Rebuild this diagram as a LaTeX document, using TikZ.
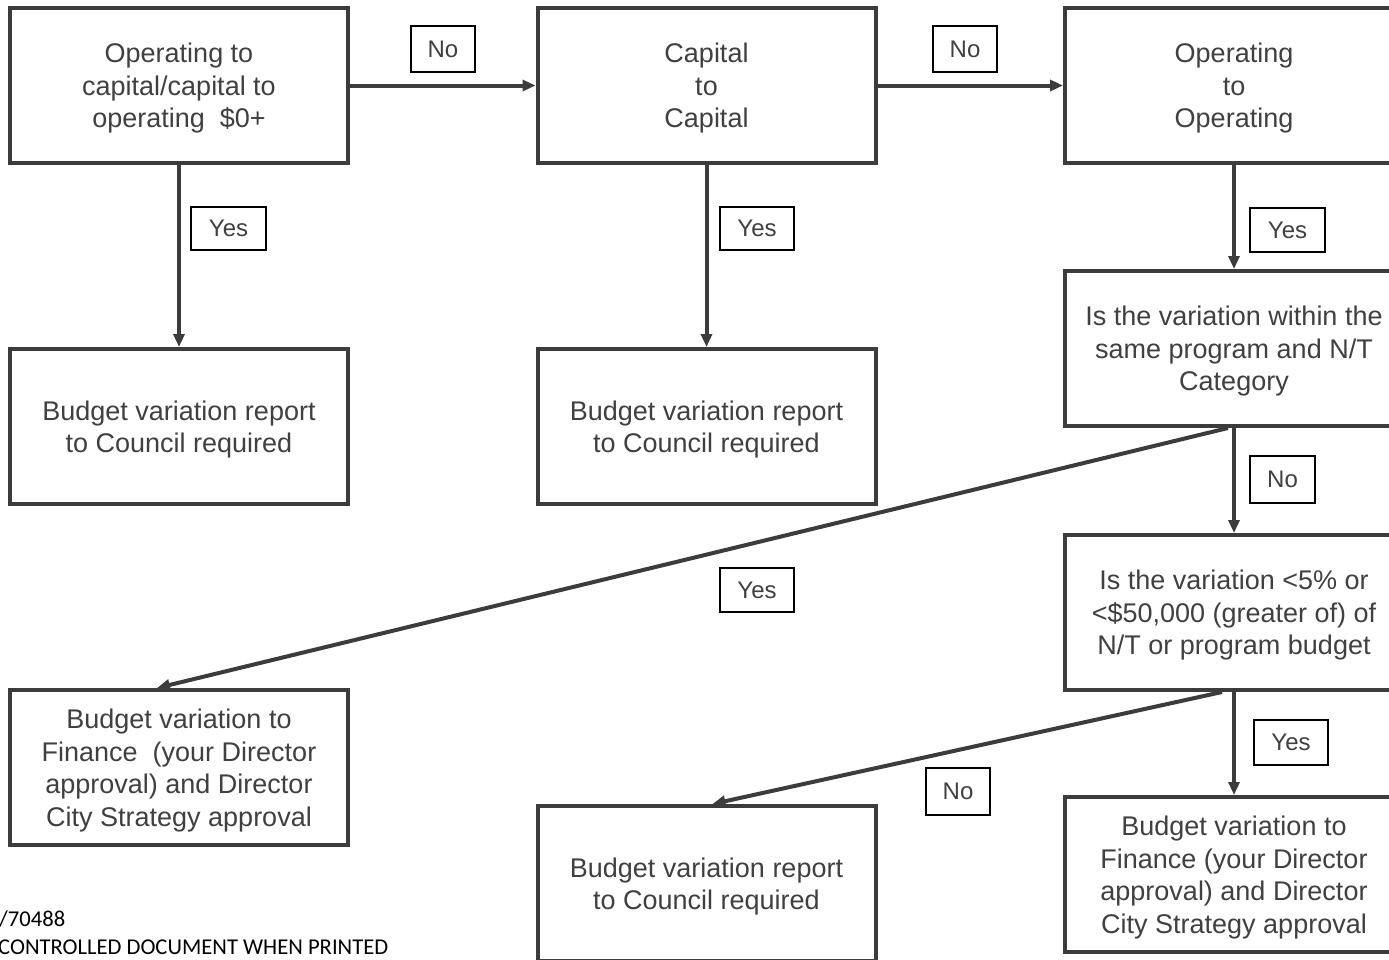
\documentclass[tikz,border=0pt]{standalone}
\usepackage{fontspec}
\setmainfont{Liberation Sans}
\newfontfamily\footfont{Carlito}
\usetikzlibrary{arrows.meta}
\definecolor{boxgray}{HTML}{3C3C3C}
\definecolor{txtgray}{HTML}{404040}
\begin{document}
\begin{tikzpicture}[x=1pt,y=-1pt,
  stepbox/.style={draw=boxgray, line width=4pt, fill=white, minimum width=338pt, minimum height=155pt,
    align=center, text=txtgray, font=\fontsize{27}{32.5}\selectfont, inner sep=0pt, text depth=0pt},
  lbl/.style={draw=black, line width=1.1pt, fill=white, inner sep=0pt, text=txtgray,
    font=\fontsize{24}{28}\selectfont},
  conn/.style={draw=boxgray, line width=4pt, -{Triangle[length=13pt,width=11pt]}},
  foot/.style={anchor=base west, inner sep=0pt, font=\footfont\fontsize{22.6}{26}\selectfont, text=black}]
\useasboundingbox (0,0) rectangle (1389,959);
\clip (0,0) rectangle (1389,959);
% main boxes
\node[stepbox] (A) at (179,85.5) {Operating to\\capital/capital to\\operating\ \ \$0+};
\node[stepbox] (B) at (706.5,85.5) {Capital\\to\\Capital};
\node[stepbox] (C) at (1234,85.5) {Operating\\to\\Operating};
\node[stepbox] (D) at (179,426.5) {Budget variation report\\to Council required};
\node[stepbox] (E) at (706.5,426.5) {Budget variation report\\to Council required};
\node[stepbox] (F) at (1234,348.5) {Is the variation within the\\same program and N/T\\Category};
\node[stepbox] (G) at (1234,612.5) {Is the variation <5\% or\\<\$50,000 (greater of) of\\N/T or program budget};
\node[stepbox] (H) at (179,767.5) {Budget variation to\\Finance\ \ (your Director\\approval) and Director\\City Strategy approval};
\node[stepbox] (I) at (706.5,883.5) {Budget variation report\\to Council required};
\node[stepbox] (J) at (1234,874.5) {Budget variation to\\Finance (your Director\\approval) and Director\\City Strategy approval};
% connectors
\draw[conn] (A.east) -- (B.west);
\draw[conn] (B.east) -- (C.west);
\draw[conn] (A.south) -- (D.north);
\draw[conn] (B.south) -- (E.north);
\draw[conn] (C.south) -- (F.north);
\draw[conn] (F.south) -- (G.north);
\draw[conn] (G.south) -- (J.north);
\draw[conn] ([xshift=-6pt]F.south) -- ([xshift=-22pt]H.north);
\draw[conn] ([xshift=-12pt]G.south) -- ([xshift=6pt]I.north);
% labels
\node[lbl, minimum width=64pt, minimum height=46pt] (l1) at (443,49) {No};
\node[lbl, minimum width=64pt, minimum height=46pt] (l2) at (965,49) {No};
\node[lbl, minimum width=75pt, minimum height=43pt] (l3) at (228.5,228.5) {Yes};
\node[lbl, minimum width=74pt, minimum height=43pt] (l4) at (757,228.5) {Yes};
\node[lbl, minimum width=75pt, minimum height=44pt] (l5) at (1287.5,230) {Yes};
\node[lbl, minimum width=65pt, minimum height=47pt] (l6) at (1282.5,479.5) {No};
\node[lbl, minimum width=74pt, minimum height=44pt] (l7) at (757,590) {Yes};
\node[lbl, minimum width=74pt, minimum height=45pt] (l8) at (1291,742.5) {Yes};
\node[lbl, minimum width=64pt, minimum height=47pt] (l9) at (958,791.5) {No};
% footer
\node[foot] (f1) at (-1,926) {/70488};
\node[foot] (f2) at (-2,954) {CONTROLLED DOCUMENT WHEN PRINTED};
\end{tikzpicture}
\end{document}
